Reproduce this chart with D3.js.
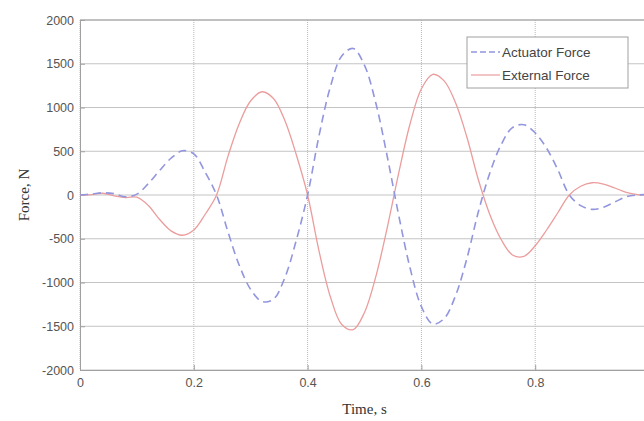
<!DOCTYPE html>
<html>
<head>
<meta charset="utf-8">
<script src="https://cdn.jsdelivr.net/npm/d3@7"></script>
<style>
  html, body { margin: 0; padding: 0; background: #fff; }
  svg { display: block; }
</style>
</head>
<body>
<svg id="chart" width="644" height="421"></svg>
<script>
const time = [0.00,0.02,0.04,0.06,0.08,0.10,0.12,0.14,0.16,0.18,0.20,0.22,0.24,0.26,0.28,0.30,0.32,0.34,0.36,0.38,0.40,0.42,0.44,0.46,0.48,0.50,0.52,0.54,0.56,0.58,0.60,0.62,0.64,0.66,0.68,0.70,0.72,0.74,0.76,0.78,0.80,0.82,0.84,0.86,0.88,0.90,0.92,0.94,0.96,0.98,1.00];
const actuatorForce = [0,10,25,15,-20,10,130,280,420,505,470,260,0,-420,-805,-1080,-1218,-1190,-945,-520,0,675,1236,1589,1675,1482,1048,440,-228,-832,-1276,-1474,-1412,-1150,-724,-195,246,573,771,803,710,535,286,0,-121,-164,-140,-80,-20,0,5];
const externalForce = [0,5,20,-10,-30,-25,-120,-280,-410,-460,-400,-220,0,441,818,1077,1180,1103,851,463,0,-638,-1163,-1480,-1539,-1342,-930,-372,247,811,1214,1379,1304,1053,660,177,-219,-506,-685,-702,-580,-400,-200,0,100,140,125,80,30,5,0];
const xTicks = [0,0.2,0.4,0.6,0.8,1];
const yTicks = [-2000,-1500,-1000,-500,0,500,1000,1500,2000];
const seriesNames = ["Actuator Force","External Force"];

const svg = d3.select("#chart");
const mLeft = 80, mRight = 649, mTop = 20, mBottom = 370;
const x = d3.scaleLinear().domain([0,1]).range([mLeft,mRight]);
const y = d3.scaleLinear().domain([-2000,2000]).range([mBottom,mTop]);

// grid
svg.append("g").selectAll("line").data(yTicks).join("line")
  .attr("x1", mLeft).attr("x2", mRight)
  .attr("y1", d => y(d)).attr("y2", d => y(d))
  .attr("stroke", "#c4c4c4").attr("stroke-width", 1);
svg.append("g").selectAll("line").data(xTicks).join("line")
  .attr("x1", d => x(d)).attr("x2", d => x(d))
  .attr("y1", mTop).attr("y2", mBottom)
  .attr("stroke", "#b8b8b8").attr("stroke-width", 1).attr("stroke-dasharray", "1,1");

// axes
const xAxis = d3.axisBottom(x).tickValues(xTicks).tickSize(-5).tickPadding(8).tickFormat(d => String(d));
const yAxis = d3.axisLeft(y).tickValues(yTicks).tickSize(-5).tickPadding(6).tickFormat(d => String(d));
const gx = svg.append("g").attr("transform", `translate(0,${mBottom})`).call(xAxis);
const gy = svg.append("g").attr("transform", `translate(${mLeft},0)`).call(yAxis);
[gx, gy].forEach(g => {
  g.select(".domain").attr("stroke", "#a0a0a0");
  g.selectAll(".tick line").attr("stroke", "#a0a0a0");
  g.selectAll(".tick text").attr("fill", "#555").style("font-family", "Liberation Sans, Arial, sans-serif").style("font-size", "12.5px");
});
svg.append("line").attr("x1", mLeft).attr("x2", mRight).attr("y1", mTop).attr("y2", mTop)
  .attr("stroke", "#a0a0a0");

// lines
const line = d3.line().x((d,i) => x(time[i])).y(d => y(d)).curve(d3.curveCatmullRom.alpha(0.5));
svg.append("path").datum(externalForce).attr("d", line)
  .attr("fill", "none").attr("stroke", "#eb9d9d").attr("stroke-width", 1.3);
svg.append("path").datum(actuatorForce).attr("d", line)
  .attr("fill", "none").attr("stroke", "#9296de").attr("stroke-width", 1.6).attr("stroke-dasharray", "8,5");

// labels
svg.append("text").attr("x", (mLeft+mRight)/2).attr("y", 414).attr("text-anchor", "middle")
  .style("font-family", "Liberation Serif, Times New Roman, serif").style("font-size", "15px").attr("fill", "#333")
  .text("Time, s");
svg.append("text").attr("transform", `translate(29,${(mTop+mBottom)/2}) rotate(-90)`).attr("text-anchor", "middle")
  .style("font-family", "Liberation Serif, Times New Roman, serif").style("font-size", "15px").attr("fill", "#333")
  .text("Force, N");

// legend
const lg = svg.append("g");
lg.append("rect").attr("x", 467).attr("y", 37).attr("width", 161).attr("height", 51)
  .attr("fill", "#fff").attr("stroke", "#a0a0a0");
const styles = [{c:"#9296de", dash:"6,3", w:1.3},{c:"#eb9d9d", dash:null, w:1.2}];
seriesNames.forEach((n,i) => {
  const yy = 52 + i*23;
  lg.append("line").attr("x1", 471).attr("x2", 500).attr("y1", yy).attr("y2", yy)
    .attr("stroke", styles[i].c).attr("stroke-width", styles[i].w).attr("stroke-dasharray", styles[i].dash);
  lg.append("text").attr("x", 502).attr("y", yy + 5)
    .style("font-family", "Liberation Sans, Arial, sans-serif").style("font-size", "13.5px").attr("fill", "#444")
    .text(n);
});
</script>
</body>
</html>
